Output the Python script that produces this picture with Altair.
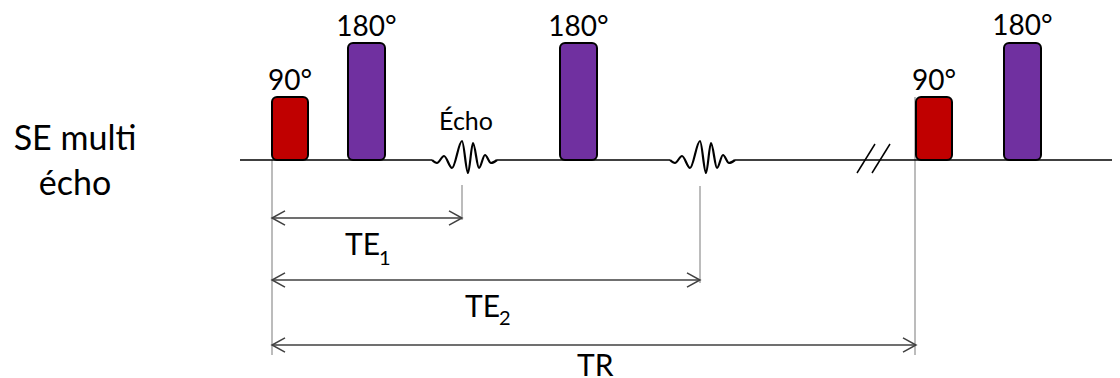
import altair as alt
import pandas as pd

# ---- diagram data (time axis in pixels of the original figure) ----
pulse_label = ["90°", "180°", "180°", "90°", "180°"]
pulse_start = [272, 348, 560, 916, 1004]
pulse_end = [308, 385, 597, 952, 1041]
pulse_top = [97, 43, 43, 97, 43]
label_base = [90, 36, 36, 90, 35]
baseline_y = 160
line_start = 240
line_end = 1125

echo_center = [462, 700]
wave_dx = [-30, -25, -18, -10, 0, 6, 11, 17, 23, 29, 35]
wave_dy = [0, -3, 4, -8, 19, -13, 17, -8, 5, -3, 0]

arrow_label = ["TE", "TE", "TR"]
arrow_sub = ["1", "2"]
arrow_start = 272
arrow_end = [462, 700, 916]
arrow_y = [218, 280, 345]
label_x = [345, 465, 577]
label_y = [255, 317, 376]
sub_x = [379, 499]
sub_y = [265, 325]

guide_x = [272, 462, 700, 915]
guide_top = [160, 185, 186, 97]
guide_bottom = [355, 220, 283, 355]

slash_x = [857, 872]
slash_x2 = [875, 890]
slash_y = [173, 173]
slash_y2 = [144, 144]

seq_title = "SE multi\nécho"
echo_title = "Écho"

# ---- tables ----
pulses = pd.DataFrame({"kind": pulse_label, "x": pulse_start, "x2": pulse_end,
                       "y": pulse_top, "y2": [baseline_y] * len(pulse_label),
                       "cx": [(a + b) / 2 for a, b in zip(pulse_start, pulse_end)],
                       "ly": label_base})

wave_rows = []
for i, c in enumerate(echo_center):
    for j, (dx, dy) in enumerate(zip(wave_dx, wave_dy)):
        wave_rows.append({"echo": i, "order": j, "x": c + dx, "y": baseline_y - dy})
waves = pd.DataFrame(wave_rows)

seg_x = [line_start]
seg_x2 = []
for c in echo_center:
    seg_x2.append(c + wave_dx[0])
    seg_x.append(c + wave_dx[-1])
seg_x2.append(line_end)
baseline = pd.DataFrame({"x": seg_x, "x2": seg_x2, "y": [baseline_y] * len(seg_x)})

arrows = pd.DataFrame({"x": [arrow_start] * 3, "x2": arrow_end, "y": arrow_y})
labels = pd.DataFrame({"t": arrow_label, "x": label_x, "y": label_y})
subs = pd.DataFrame({"t": arrow_sub, "x": sub_x, "y": sub_y})
guides = pd.DataFrame({"x": guide_x, "y": guide_top, "y2": guide_bottom})
slashes = pd.DataFrame({"x": slash_x, "x2": slash_x2, "y": slash_y, "y2": slash_y2})

# ---- scales ----
W, H = 1104, 370
xs = alt.Scale(domain=[8, 8 + W], nice=False, zero=False)
ys = alt.Scale(domain=[8, 8 + H], nice=False, zero=False, reverse=True)


def X(f="x"):
    return alt.X(f"{f}:Q", scale=xs, axis=None)


def Y(f="y"):
    return alt.Y(f"{f}:Q", scale=ys, axis=None)


FONT = "Lato"

base_layer = alt.Chart(baseline).mark_rule(color="#000000", strokeWidth=1.5).encode(
    x=X(), x2="x2:Q", y=Y())

wave_layer = alt.Chart(waves).mark_line(color="#000000", strokeWidth=2.2, interpolate="monotone").encode(
    x=X(), y=Y(), detail="echo:N", order="order:Q")

guide_layer = alt.Chart(guides).mark_rule(color="#a6a6a6", strokeWidth=1.5).encode(
    x=X(), y=Y(), y2="y2:Q")

pulse_layer = alt.Chart(pulses).mark_rect(cornerRadius=5, stroke="#000000", strokeWidth=2).encode(
    x=X(), x2="x2:Q", y=Y(), y2="y2:Q",
    color=alt.Color("kind:N", scale=alt.Scale(domain=["90°", "180°"], range=["#C00000", "#7030A0"]),
                    legend=None))

pulse_text = alt.Chart(pulses).mark_text(font=FONT, fontSize=28, baseline="alphabetic", align="center",
                                         color="#000000").encode(
    x=X("cx"), y=Y("ly"), text="kind:N")

arrow_layer = alt.Chart(arrows).mark_rule(color="#404040", strokeWidth=1.5).encode(
    x=X(), x2="x2:Q", y=Y())

left_heads = alt.Chart(arrows).mark_point(shape="M1,-0.55L0,0L1,0.55", size=676, filled=False,
                                          color="#404040", strokeWidth=1.5, opacity=1).encode(
    x=X(), y=Y())
right_heads = alt.Chart(arrows).mark_point(shape="M-1,-0.55L0,0L-1,0.55", size=676, filled=False,
                                           color="#404040", strokeWidth=1.5, opacity=1).encode(
    x=X("x2"), y=Y())

slash_layer = alt.Chart(slashes).mark_rule(color="#000000", strokeWidth=1.5).encode(
    x=X(), x2="x2:Q", y=Y(), y2="y2:Q")

label_layer = alt.Chart(labels).mark_text(font=FONT, fontSize=30, baseline="alphabetic", align="left",
                                          color="#000000").encode(
    x=X(), y=Y(), text="t:N")
sub_layer = alt.Chart(subs).mark_text(font=FONT, fontSize=20, baseline="alphabetic", align="left",
                                      color="#000000").encode(
    x=X(), y=Y(), text="t:N")

title_df = pd.DataFrame({"t": [seq_title], "x": [75], "y": [150]})
title_layer = alt.Chart(title_df).mark_text(font=FONT, fontSize=34, baseline="alphabetic", align="center",
                                            lineBreak="\n", lineHeight=45, color="#000000").encode(
    x=X(), y=Y(), text="t:N")

echo_df = pd.DataFrame({"t": [echo_title], "x": [echo_center[0] + 4], "y": [130]})
echo_layer = alt.Chart(echo_df).mark_text(font=FONT, fontSize=25, baseline="alphabetic", align="center",
                                          color="#000000").encode(
    x=X(), y=Y(), text="t:N")

chart = alt.layer(
    guide_layer, base_layer, wave_layer, slash_layer, pulse_layer, pulse_text,
    arrow_layer, left_heads, right_heads, label_layer, sub_layer, title_layer, echo_layer
).properties(
    width=W, height=H, padding=0, background="#ffffff",
    autosize=alt.AutoSizeParams(type="none")
).configure_view(stroke=None)

chart.save("out.html", embed_options={"renderer": "svg", "actions": False})
